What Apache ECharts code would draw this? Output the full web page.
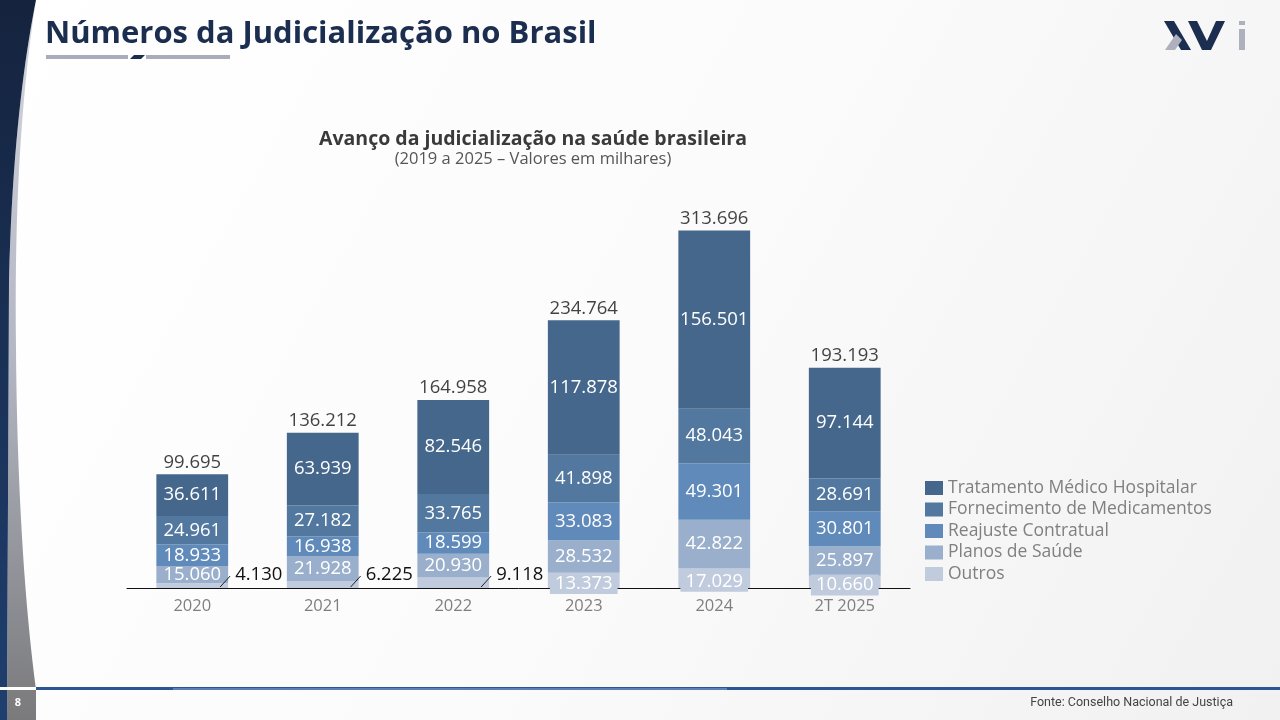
<!DOCTYPE html>
<html>
<head>
<meta charset="utf-8">
<title>Números da Judicialização no Brasil</title>
<script src="https://cdn.jsdelivr.net/npm/echarts@6/dist/echarts.min.js"></script>
<style>
html, body { margin: 0; padding: 0; background: #fff; }
#chart { width: 1280px; height: 720px; }
</style>
</head>
<body>
<div id="chart"></div>
<script>
// valores em milhares de processos
var anos = ['2020', '2021', '2022', '2023', '2024', '2T 2025'];
var outros = [4130, 6225, 9118, 13373, 17029, 10660];
var planos = [15060, 21928, 20930, 28532, 42822, 25897];
var reajuste = [18933, 16938, 18599, 33083, 49301, 30801];
var fornecimento = [24961, 27182, 33765, 41898, 48043, 28691];
var tratamento = [36611, 63939, 82546, 117878, 156501, 97144];
var totais = [99695, 136212, 164958, 234764, 313696, 193193];
var outrosFora = [0, 1, 2]; // anos em que o rótulo de "Outros" fica fora da barra

var nomes = ['Outros', 'Planos de Saúde', 'Reajuste Contratual', 'Fornecimento de Medicamentos', 'Tratamento Médico Hospitalar'];
var cores = ['#c0cbde', '#9aafcc', '#5f8aba', '#53789f', '#46678c'];

var FONTE = '"Open Sans", "Noto Sans", sans-serif';
var LARGURA_BARRA = 0.55;

function fmt(n) {
	return String(n).replace(/\B(?=(\d{3})+(?!\d))/g, '.');
}

// pontos de uma curva de bezier cubica, para desenhar a faixa lateral
function bezier(p0, p1, p2, p3) {
	var pts = [];
	for (var k = 0; k <= 20; k++) {
		var t = k / 20, u = 1 - t;
		pts.push([
			u*u*u*p0[0] + 3*u*u*t*p1[0] + 3*u*t*t*p2[0] + t*t*t*p3[0],
			u*u*u*p0[1] + 3*u*u*t*p1[1] + 3*u*t*t*p2[1] + t*t*t*p3[1]
		]);
	}
	return pts;
}

var bordaAzul = bezier([36, 0], [24, 60], [12, 150], [9, 280]).concat([[7, 720]]);
var bordaCinza = bezier([36, 0], [22, 90], [14, 200], [16, 350])
	.concat(bezier([16, 350], [17, 480], [24, 600], [36, 690]))
	.concat([[36, 720]]);
var faixaAzul = [[0, 0]].concat(bordaAzul).concat([[0, 720]]);
var faixaCinza = bordaCinza.concat(bordaAzul.slice().reverse());

function serieBarra(nome, valores, cor) {
	return {
		name: nome,
		type: 'bar',
		stack: 'total',
		barWidth: (LARGURA_BARRA * 100) + '%',
		itemStyle: { color: cor },
		label: {
			show: true,
			position: 'inside',
			color: '#fff',
			fontSize: 18.5,
			fontFamily: FONTE,
			formatter: function(p) { return fmt(p.value); }
		},
		data: valores
	};
}

var serieOutros = serieBarra(nomes[0], [], cores[0]);
serieOutros.data = outros.map(function(v, i) {
	if (outrosFora.indexOf(i) >= 0) {
		return {
			value: v,
			label: {
				position: ['100%', '100%'],
				align: 'left',
				verticalAlign: 'bottom',
				offset: [7, -4],
				color: '#111'
			}
		};
	}
	return {
		value: v,
		label: { backgroundColor: cores[0], padding: [1, 5], offset: [0, 3] }
	};
});

var chart = echarts.init(document.getElementById('chart'));

var option = {
	animation: false,
	graphic: [
		// fundo
		{ type: 'rect', z: -10, shape: { x: 0, y: 0, width: 1280, height: 720 },
		  style: { fill: new echarts.graphic.LinearGradient(0, 0, 1, 1, [
			{ offset: 0, color: '#ffffff' }, { offset: 0.5, color: '#fbfbfb' }, { offset: 1, color: '#f1f1f1' }]) } },
		// faixa lateral
		{ type: 'polygon', shape: { points: faixaCinza },
		  style: { fill: new echarts.graphic.LinearGradient(0, 0, 0, 1, [
			{ offset: 0, color: '#d4d6de' }, { offset: 0.5, color: '#b3b6c3' }, { offset: 1, color: '#7a7a7c' }]) } },
		{ type: 'polygon', shape: { points: faixaAzul },
		  style: { fill: new echarts.graphic.LinearGradient(0, 0, 0, 1, [
			{ offset: 0, color: '#15233e' }, { offset: 1, color: '#1f3f6e' }]) } },
		// título do slide
		{ type: 'text', left: 45, top: 19,
		  style: { text: 'Números da Judicialização no Brasil', fill: '#1b2e4f', font: 'bold 31px ' + FONTE } },
		{ type: 'rect', shape: { x: 46, y: 55, width: 82, height: 4 }, style: { fill: '#a9acbb' } },
		{ type: 'polygon', shape: { points: [[134, 55], [145, 55], [141, 59], [130, 59]] }, style: { fill: '#1b2e4f' } },
		{ type: 'rect', shape: { x: 146, y: 55, width: 84, height: 4 }, style: { fill: '#a9acbb' } },
		// logotipo
		{ type: 'polygon', shape: { points: [[1164, 21], [1174, 21], [1191, 50], [1181, 50]] }, style: { fill: '#1b2e4f' } },
		{ type: 'polygon', shape: { points: [[1176, 34], [1182, 40], [1175, 50], [1165, 50]] }, style: { fill: '#aeb0bd' } },
		{ type: 'polygon', shape: { points: [[1188, 21], [1197, 21], [1207, 41], [1216, 21], [1225, 21], [1211, 50], [1202, 50]] }, style: { fill: '#1b2e4f' } },
		{ type: 'rect', shape: { x: 1239, y: 21, width: 6, height: 4 }, style: { fill: '#aeb0bd' } },
		{ type: 'rect', shape: { x: 1239, y: 29, width: 6, height: 21 }, style: { fill: '#aeb0bd' } },
		// título do gráfico
		{ type: 'text', x: 533, y: 139,
		  style: { text: 'Avanço da judicialização na saúde brasileira', fill: '#3a3a3a', font: 'bold 19.5px ' + FONTE, align: 'center', verticalAlign: 'middle' } },
		{ type: 'text', x: 533, y: 159,
		  style: { text: '(2019 a 2025 – Valores em milhares)', fill: '#555', font: '16.5px ' + FONTE, align: 'center', verticalAlign: 'middle' } },
		// rodapé
		{ type: 'rect', shape: { x: 0, y: 687, width: 36, height: 3 }, style: { fill: '#ffffff' } },
		{ type: 'rect', shape: { x: 36, y: 687, width: 1244, height: 3 }, style: { fill: '#2c5593' } },
		{ type: 'rect', shape: { x: 173, y: 688, width: 554, height: 2 }, style: { fill: '#5a80b6' } },
		{ type: 'text', x: 18, y: 703,
		  style: { text: '8', fill: '#fff', font: 'bold 11px ' + FONTE, align: 'center', verticalAlign: 'middle' } },
		{ type: 'text', x: 1233, y: 703,
		  style: { text: 'Fonte: Conselho Nacional de Justiça', fill: '#444', font: '12.5px Roboto, sans-serif', align: 'right', verticalAlign: 'middle' } }
	],
	legend: {
		orient: 'vertical',
		left: 920,
		top: 474,
		data: nomes.slice().reverse(),
		icon: 'rect',
		itemWidth: 18,
		itemHeight: 14,
		itemGap: 3.5,
		selectedMode: false,
		textStyle: { color: '#808080', fontSize: 17.5, fontFamily: FONTE }
	},
	grid: { left: 127, right: 370, top: 189, bottom: 132 },
	xAxis: {
		type: 'category',
		data: anos,
		axisLine: { lineStyle: { color: '#111', width: 1 } },
		axisTick: { show: false },
		axisLabel: { color: '#7f7f7f', fontSize: 16.5, fontFamily: FONTE, margin: 10 }
	},
	yAxis: { type: 'value', min: 0, max: 350000, show: false, splitLine: { show: false } },
	series: [
		serieOutros,
		serieBarra(nomes[1], planos, cores[1]),
		serieBarra(nomes[2], reajuste, cores[2]),
		serieBarra(nomes[3], fornecimento, cores[3]),
		serieBarra(nomes[4], tratamento, cores[4]),
		{
			name: 'Total',
			type: 'scatter',
			symbolSize: 1,
			itemStyle: { color: 'transparent' },
			label: {
				show: true,
				position: 'top',
				distance: 2,
				color: '#111',
				fontSize: 18.5,
				fontFamily: FONTE,
				formatter: function(p) { return fmt(p.value[1]); }
			},
			data: totais.map(function(v, i) { return [i, v]; })
		},
		{
			name: 'guia',
			type: 'custom',
			silent: true,
			z: 5,
			data: outrosFora.map(function(i) { return [i, outros[i]]; }),
			renderItem: function(params, api) {
				var base = api.coord([api.value(0), 0]);
				var borda = base[0] + api.size([1, 0])[0] * LARGURA_BARRA / 2;
				return {
					type: 'line',
					shape: { x1: borda - 8, y1: base[1] - 1, x2: borda + 2, y2: base[1] - 12 },
					style: { stroke: '#222', lineWidth: 1 }
				};
			}
		}
	]
};

chart.setOption(option);
</script>
</body>
</html>
